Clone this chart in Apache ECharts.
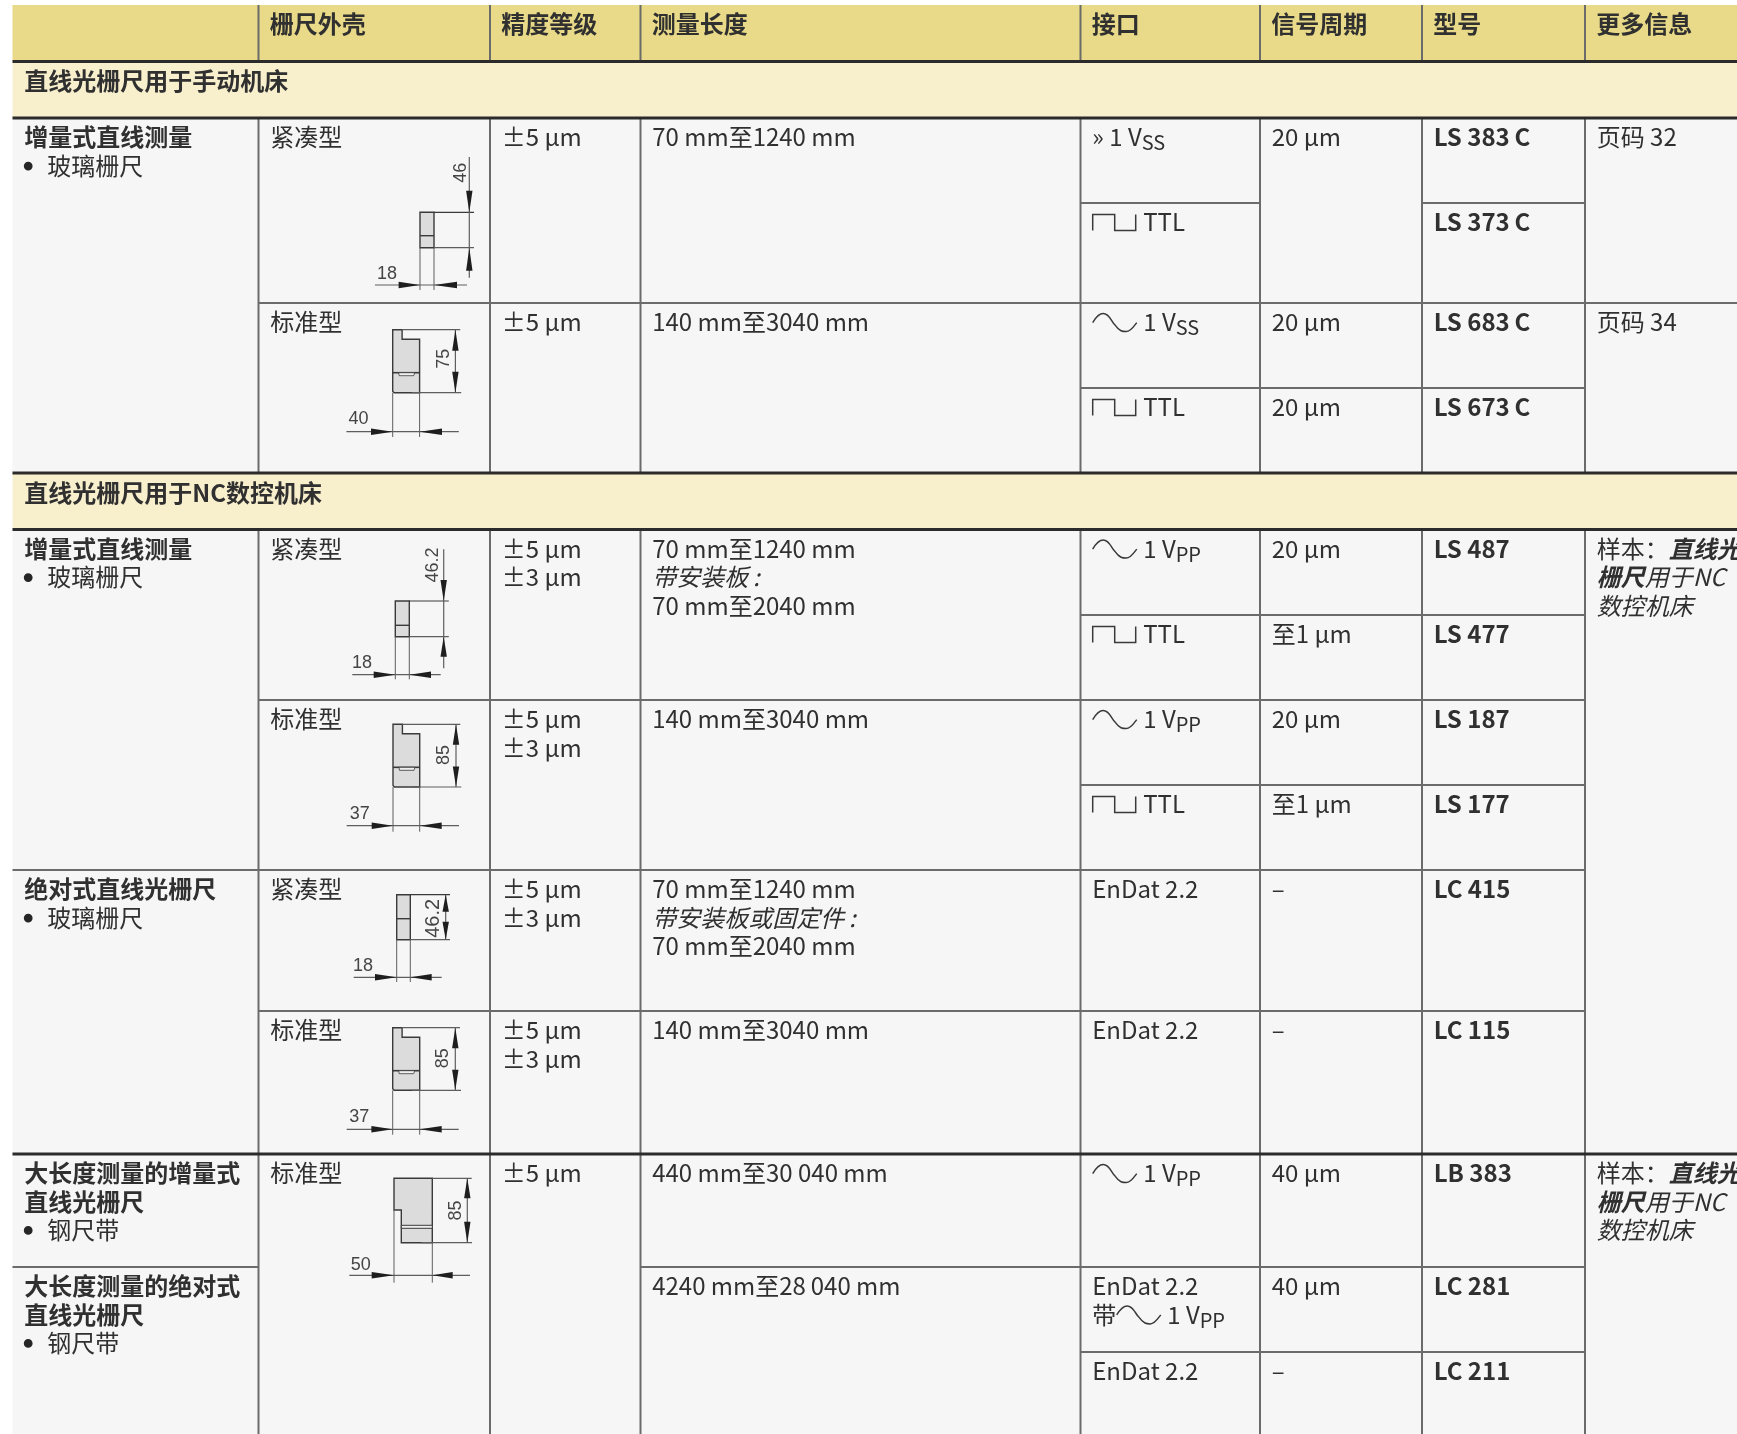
<!DOCTYPE html>
<html><head><meta charset="utf-8">
<style>html,body{margin:0;padding:0;background:#fff}#c{width:1737px;height:1434px}</style>
<script src="https://cdn.jsdelivr.net/npm/echarts@6/dist/echarts.min.js"></script>
</head><body><div id="c"></div>
<script>
// ---------- table content ----------
const headerLabels = ['', '栅尺外壳', '精度等级', '测量长度', '接口', '信号周期', '型号', '更多信息'];
const sectionTitles = ['直线光栅尺用于手动机床', '直线光栅尺用于NC数控机床'];
const groupCells = [
  [0, '*增量式直线测量', '-玻璃栅尺'],
  [5, '*增量式直线测量', '-玻璃栅尺'],
  [9, '*绝对式直线光栅尺', '-玻璃栅尺'],
  [11, '*大长度测量的增量式', '*直线光栅尺', '-钢尺带'],
  [12, '*大长度测量的绝对式', '*直线光栅尺', '-钢尺带']
];
const housingCells = [[0, '紧凑型'], [2, '标准型'], [5, '紧凑型'], [7, '标准型'], [9, '紧凑型'], [10, '标准型'], [11, '标准型']];
const accuracyCells = [
  [0, '±5 µm'], [2, '±5 µm'], [5, '±5 µm', '±3 µm'], [7, '±5 µm', '±3 µm'],
  [9, '±5 µm', '±3 µm'], [10, '±5 µm', '±3 µm'], [11, '±5 µm']
];
const lengthCells = [
  [0, '70 mm至1240 mm'], [2, '140 mm至3040 mm'],
  [5, '70 mm至1240 mm', '/带安装板\u2009:', '70 mm至2040 mm'],
  [7, '140 mm至3040 mm'],
  [9, '70 mm至1240 mm', '/带安装板或固定件\u2009:', '70 mm至2040 mm'],
  [10, '140 mm至3040 mm'], [11, '440 mm至30 040 mm'], [12, '4240 mm至28\u2009040 mm']
];
// row, optional first line, lead-in of the signal line, icon, text, subscript
const interfaceCells = [
  [0, '', '»', '', '1 V', 'SS'], [1, '', '', 'square', 'TTL', ''],
  [2, '', '', 'sine', '1 V', 'SS'], [3, '', '', 'square', 'TTL', ''],
  [5, '', '', 'sine', '1 V', 'PP'], [6, '', '', 'square', 'TTL', ''],
  [7, '', '', 'sine', '1 V', 'PP'], [8, '', '', 'square', 'TTL', ''],
  [9, 'EnDat 2.2', '', '', '', ''], [10, 'EnDat 2.2', '', '', '', ''],
  [11, '', '', 'sine', '1 V', 'PP'], [12, 'EnDat 2.2', '带', 'sine', '1 V', 'PP'],
  [13, 'EnDat 2.2', '', '', '', '']
];
const periodCells = [
  [0, '20 µm'], [2, '20 µm'], [3, '20 µm'], [5, '20 µm'], [6, '至1 µm'], [7, '20 µm'], [8, '至1 µm'],
  [9, '–'], [10, '–'], [11, '40 µm'], [12, '40 µm'], [13, '–']
];
const modelCells = [
  [0, '*LS 383\u2009C'], [1, '*LS 373\u2009C'], [2, '*LS 683\u2009C'], [3, '*LS 673\u2009C'],
  [5, '*LS 487'], [6, '*LS 477'], [7, '*LS 187'], [8, '*LS 177'], [9, '*LC 415'], [10, '*LC 115'],
  [11, '*LB 383'], [12, '*LC 281'], [13, '*LC 211']
];
const infoCells = [
  [0, '页码 32'], [2, '页码 34'],
  [5, '{r|样本：}{bi|直线光}', '{bi|栅尺}{i|用于NC}', '/数控机床'],
  [11, '{r|样本：}{bi|直线光}', '{bi|栅尺}{i|用于NC}', '/数控机床']
];
const dimensionLabels = { a: ['46', '18'], b: ['75', '40'], c: ['46.2', '18'], d: ['85', '37'], e: ['46.2', '18'], f: ['85', '37'], g: ['85', '50'] };

// ---------- layout ----------
const W = 1737, H = 1434;
const colX = [12.5, 258.5, 490, 640.5, 1080.5, 1260, 1422, 1585, W];
const rowY = [118, 203, 303, 388, 473, 529.5, 615, 700, 785, 870, 1011, 1154, 1267, 1352];
const bands = [
  [12.5, 5, W, 61.5, '#e8da88'], [12.5, 61.5, W, 118, '#f8efcd'], [12.5, 118, W, 473, '#f6f6f6'],
  [12.5, 473, W, 529.5, '#f8efcd'], [12.5, 529.5, W, H, '#f6f6f6']
];
const thinH = [
  [203, 4, 5], [203, 6, 7], [303, 1, 8], [388, 4, 7], [615, 4, 7], [700, 1, 7], [785, 4, 7],
  [870, 0, 7], [1011, 1, 7], [1267, 0, 1], [1267, 3, 7], [1352, 4, 7]
];
const thickH = [61.5, 118, 473, 529.5, 1154];
const ruleSpans = [[5, 61.5], [118, 473], [529.5, H]];
const FONT = '"Noto Sans CJK SC","Noto Sans",sans-serif';
const INK = '#303030';
const base = { fontFamily: FONT, fontSize: 24, fill: INK };
const rich = {
  r: { ...base }, b: { ...base, fontWeight: 700 }, i: { ...base, fontStyle: 'italic' },
  bi: { ...base, fontWeight: 700, fontStyle: 'italic' },
  s: { ...base, fontSize: 20, padding: [11, 0, 0, 0] }
};
const LINE = 28.3, PAD = 11.7, FIRST = 19.3;

function markup(line) {
  if (line.includes('{')) return line;
  if (line[0] === '*') return '{b|' + line.slice(1) + '}';
  if (line[0] === '/') return '{i|' + line.slice(1) + '}';
  return '{r|' + line + '}';
}

// Flatten the content arrays into text records.
const texts = [];
const icons = [];
headerLabels.forEach((t, i) => { if (t) texts.push([colX[i] + 11.2, 23.8, '{b|' + t + '}']); });
sectionTitles.forEach((t, i) => texts.push([24.2, [80.8, 492.8][i], '{b|' + t + '}']));
[[groupCells, 0], [housingCells, 1], [accuracyCells, 2], [lengthCells, 3], [periodCells, 5], [modelCells, 6], [infoCells, 7]].forEach(([cells, c]) => {
  cells.forEach(([r, ...lines]) => lines.forEach((l, k) => {
    const x = colX[c] + PAD, y = rowY[r] + FIRST + k * LINE;
    if (l[0] === '-') {
      icons.push([x + 4, y + 0.5, 'dot']);
      texts.push([x + 23, y, markup(l.slice(1))]);
    } else texts.push([x, y, markup(l)]);
  }));
});
interfaceCells.forEach(([r, first, lead, icon, txt, sub]) => {
  let y = rowY[r] + FIRST, x = colX[4] + PAD;
  if (first) { texts.push([x, y, '{r|' + first + '}']); y += LINE; }
  if (lead === '带') { texts.push([x, y, '{r|带}']); x += 24; }
  if (lead === '»') { texts.push([x, y, '{r|»}']); x += 17; }
  if (icon) { icons.push([x + 0.5, y, icon]); x += 51; }
  if (txt) texts.push([x, y, '{r|' + txt + '}' + (sub ? '{s|' + sub + '}' : '')]);
});

const ICON_PATH = {
  sine: 'M0 9 C3 4 6 0 10.5 0 C17 0 19 9 22 11 C27 18 30 18 33.5 18 C38 18 41 13 44 9',
  square: 'M0 16 L0 0 L22 0 L22 16 L43 16 L43 0'
};
const ICON_LIFT = { sine: 8.7, square: 7.7 };

// Dimension drawings: anchors of the profile in the table, sizes in the drawing template.
const compactDrawings = [
  { key: 'a', x: 420, y: 212.3, w: 14, h: 35.4, mid: 23.4, dimX: 49.3, top: -55.3, bot: 65.4, ext: 54, upA: 21.6, dnA: 23, txtX: 41, txtY: -39.6, base: 72.7, from: -45, to: 47, lenL: 21.4, lenR: 23, drop: 77.7, lblX: -33, lblY: 61.4, size: 18 },
  { key: 'c', x: 395.3, y: 601, w: 14, h: 35.7, mid: 24.3, dimX: 48.4, top: -51.7, bot: 67.3, ext: 53.5, upA: 21, dnA: 20, txtX: 37.8, txtY: -36, base: 73.7, from: -43, to: 45.4, lenL: 21.6, lenR: 21.7, drop: 78.3, lblX: -33.3, lblY: 62.5, size: 18 },
  { key: 'e', x: 396.7, y: 894.7, w: 13.6, h: 45, mid: 24, dimX: 49, top: 0, bot: 45, ext: 53.3, upA: 17, dnA: 18, txtX: 36.5, txtY: 23.6, base: 82.6, from: -43, to: 45, lenL: 21.7, lenR: 21.4, drop: 87.3, lblX: -33.7, lblY: 71, inward: true, size: 20 }
];
const stepDrawings = [
  { key: 'b', x: 392.7, y: 329.7, w: 26.9, h: 63, mid: 43, dimX: 62.7, ext: 67.5, arrow: 21, txtX: 51, txtY: 29, base: 102, from: -46.3, to: 66.1, lenL: 21.7, lenR: 22.4, drop: 107.3, lblX: -34.1, lblY: 89.6 },
  { key: 'd', x: 393, y: 724.3, w: 26.7, h: 62.7, mid: 43, dimX: 63, ext: 67.3, arrow: 20.5, txtX: 51, txtY: 30.7, base: 101.4, from: -46.3, to: 66, lenL: 21.3, lenR: 22, drop: 107.4, lblX: -33.3, lblY: 89.4 },
  { key: 'f', x: 392.7, y: 1027.7, w: 27, h: 62.6, mid: 43, dimX: 62.6, ext: 67.3, arrow: 20.5, txtX: 50.7, txtY: 30.6, base: 101.6, from: -46, to: 66, lenL: 21.3, lenR: 22, drop: 107, lblX: -33.4, lblY: 89.3 }
];
const wideDrawing = { key: 'g', x: 394, y: 1178.3 };

const DRAW = '#3a3a3a', FILL = '#dcdcdc', THIN = '#5e5e5e', DIGIT = '#454545';

function renderDrawings(params, api) {
  const P = (x, y) => api.coord([x, y]);
  const kids = [];
  const seg = (x1, y1, x2, y2, w, c) => {
    const a = P(x1, y1), b = P(x2, y2);
    kids.push({ type: 'line', shape: { x1: a[0], y1: a[1], x2: b[0], y2: b[1] }, style: { stroke: c || THIN, lineWidth: w || 1 }, silent: true });
  };
  const poly = (pts, fill, stroke, w) => kids.push({
    type: 'polygon', shape: { points: pts.map(p => P(p[0], p[1])) },
    style: { fill: fill, stroke: stroke, lineWidth: w || 0 }, silent: true
  });
  // arrow whose tip is (x, y); dir 'u','d','l','r'
  const arrow = (x, y, len, dir) => {
    const s = 3.2;
    if (dir === 'u') poly([[x, y], [x - s, y + len], [x + s, y + len]], '#1e1e1e');
    if (dir === 'd') poly([[x, y], [x - s, y - len], [x + s, y - len]], '#1e1e1e');
    if (dir === 'l') poly([[x, y], [x + len, y - s], [x + len, y + s]], '#1e1e1e');
    if (dir === 'r') poly([[x, y], [x - len, y - s], [x - len, y + s]], '#1e1e1e');
  };
  const digit = (x, y, t, rot, size) => {
    const p = P(x, y);
    kids.push({ type: 'text', x: p[0], y: p[1], rotation: rot ? Math.PI / 2 : 0, silent: true,
      style: { text: t, fontFamily: '"Liberation Sans",Arial,sans-serif', fontSize: size || 18, fill: DIGIT, align: 'center', verticalAlign: 'middle' } });
  };
  const bottomDim = (d, x1, x2, yy, from, to, lenL, lenR, t, lx, ly) => {
    seg(from, yy, to, yy, 1.2);
    arrow(x1, yy, lenL, 'r'); arrow(x2, yy, lenR, 'l');
    digit(lx, ly, t, false);
  };

  compactDrawings.forEach(d => {
    const L = dimensionLabels[d.key], x = d.x, y = d.y;
    poly([[x, y], [x + d.w, y], [x + d.w, y + d.h], [x, y + d.h]], FILL, DRAW, 1.4);
    seg(x, y + d.mid, x + d.w, y + d.mid, 1.4, DRAW);
    seg(x + d.w, y, x + d.ext, y, 1.2, DRAW);
    seg(x + d.w, y + d.h, x + d.ext, y + d.h, 1.2);
    seg(x + d.dimX, y + d.top, x + d.dimX, y + d.bot, 1.2);
    if (d.inward) { arrow(x + d.dimX, y, d.upA, 'u'); arrow(x + d.dimX, y + d.h, d.dnA, 'd'); }
    else { arrow(x + d.dimX, y, d.upA, 'd'); arrow(x + d.dimX, y + d.h, d.dnA, 'u'); }
    digit(x + d.txtX, y + d.txtY, L[0], true, d.size);
    seg(x, y + d.h, x, y + d.drop, 1);
    seg(x + d.w, y + d.h, x + d.w, y + d.drop, 1);
    bottomDim(d, x, x + d.w, y + d.base, x + d.from, x + d.to, d.lenL, d.lenR, L[1], x + d.lblX, y + d.lblY);
  });

  stepDrawings.forEach(d => {
    const L = dimensionLabels[d.key], x = d.x, y = d.y, w = d.w, h = d.h;
    poly([[x, y], [x + 9.4, y], [x + 9.4, y + 9.5], [x + w, y + 9.5], [x + w, y + h], [x + 1.5, y + h], [x, y + h - 1.5]], FILL, DRAW, 1.4);
    seg(x, y + d.mid, x + w, y + d.mid, 1.6, DRAW);
    poly([[x + 6, y + d.mid], [x + 22, y + d.mid], [x + 21, y + d.mid + 3], [x + 6.5, y + d.mid + 3]], '#efefef', DRAW, 0.8);
    seg(x + 9.4, y, x + d.ext, y, 1.2);
    seg(x + 19, y + h, x + d.ext + 1, y + h, 1.2);
    seg(x + d.dimX, y, x + d.dimX, y + h, 1.2);
    arrow(x + d.dimX, y, d.arrow, 'u'); arrow(x + d.dimX, y + h, d.arrow, 'd');
    digit(x + d.txtX, y + d.txtY, L[0], true);
    seg(x, y + h, x, y + d.drop, 1);
    seg(x + w, y + h, x + w, y + d.drop, 1);
    bottomDim(d, x, x + w, y + d.base, x + d.from, x + d.to, d.lenL, d.lenR, L[1], x + d.lblX, y + d.lblY);
  });

  (function () {
    const d = wideDrawing, L = dimensionLabels[d.key], x = d.x, y = d.y, w = 38.3, h = 64.4;
    poly([[x, y], [x + w, y], [x + w, y + h], [x + 7.3, y + h], [x + 7.3, y + 31.7], [x, y + 31.7]], FILL, DRAW, 1.4);
    poly([[x + 7.3, y + 47], [x + w, y + 47], [x + w, y + 50], [x + 7.3, y + 50]], '#efefef', DRAW, 1);
    seg(x + w, y, x + 77.7, y, 1.2);
    seg(x + 27.7, y + h, x + 78, y + h, 1.2);
    seg(x + 73.3, y, x + 73.3, y + h, 1.2);
    arrow(x + 73.3, y, 20, 'u'); arrow(x + 73.3, y + h, 21, 'd');
    digit(x + 62.5, y + 32.2, L[0], true);
    seg(x, y + 31.7, x, y + 104.4, 1);
    seg(x + w, y + h, x + w, y + 104.4, 1);
    bottomDim(d, x, x + w, y + 97, x - 44.7, x + 76, 22.3, 20.4, L[1], x - 33.3, y + 87);
  })();
  return { type: 'group', children: kids };
}

function rectSeries() {
  return { type: 'custom', coordinateSystem: 'cartesian2d', z: 1, silent: true, clip: false, data: bands.map(b => [b[0], b[1], b[2], b[3]]),
    renderItem: (p, api) => {
      const b = bands[p.dataIndex], a = api.coord([b[0], b[1]]), c = api.coord([b[2], b[3]]);
      return { type: 'rect', shape: { x: a[0], y: a[1], width: c[0] - a[0], height: c[1] - a[1] }, style: { fill: b[4] } };
    } };
}
const ruleRows = [];
for (let i = 1; i < 8; i++) ruleSpans.forEach(s => ruleRows.push([colX[i], s[0], colX[i], s[1], 2, '#6b6b6b']));
thinH.forEach(t => ruleRows.push([colX[t[1]], t[0], colX[t[2]], t[0], 2, '#6b6b6b']));
thickH.forEach(y => ruleRows.push([12.5, y, W, y, 3, '#2b2b2b']));

const option = {
  animation: false,
  backgroundColor: '#ffffff',
  grid: { left: 0, right: 0, top: 0, bottom: 0 },
  xAxis: { type: 'value', min: 0, max: W, show: false },
  yAxis: { type: 'value', min: 0, max: H, inverse: true, show: false },
  series: [
    rectSeries(),
    { type: 'custom', coordinateSystem: 'cartesian2d', z: 2, silent: true, clip: false, data: ruleRows.map(r => r.slice(0, 4)),
      renderItem: (p, api) => {
        const r = ruleRows[p.dataIndex], a = api.coord([r[0], r[1]]), b = api.coord([r[2], r[3]]);
        return { type: 'line', shape: { x1: a[0], y1: a[1], x2: b[0], y2: b[1] }, style: { stroke: r[5], lineWidth: r[4] } };
      } },
    { type: 'custom', coordinateSystem: 'cartesian2d', z: 3, silent: true, clip: false, data: icons.map(i => [i[0], i[1]]),
      renderItem: (p, api) => {
        const it = icons[p.dataIndex];
        if (it[2] === 'dot') {
          const c = api.coord([it[0], it[1]]);
          return { type: 'circle', shape: { cx: c[0], cy: c[1], r: 4.4 }, style: { fill: '#262626' } };
        }
        const a = api.coord([it[0], it[1] - ICON_LIFT[it[2]]]);
        return { type: 'path', x: a[0], y: a[1], shape: { pathData: ICON_PATH[it[2]] }, style: { fill: 'none', stroke: '#3a3a3a', lineWidth: 1.5 } };
      } },
    { type: 'custom', coordinateSystem: 'cartesian2d', z: 4, silent: true, clip: false, data: [[0, 0]], renderItem: renderDrawings },
    { type: 'custom', coordinateSystem: 'cartesian2d', z: 5, silent: true, clip: false, data: texts.map(t => [t[0], t[1]]),
      renderItem: (p, api) => {
        const t = texts[p.dataIndex], a = api.coord([t[0], t[1]]);
        return { type: 'text', x: a[0], y: a[1], style: { text: t[2], rich: rich, fontFamily: FONT, fontSize: 24, fill: INK, align: 'left', verticalAlign: 'middle' } };
      } }
  ]
};
const chart = echarts.init(document.getElementById('c'), null, { renderer: 'canvas' });
chart.setOption(option);
</script></body></html>
